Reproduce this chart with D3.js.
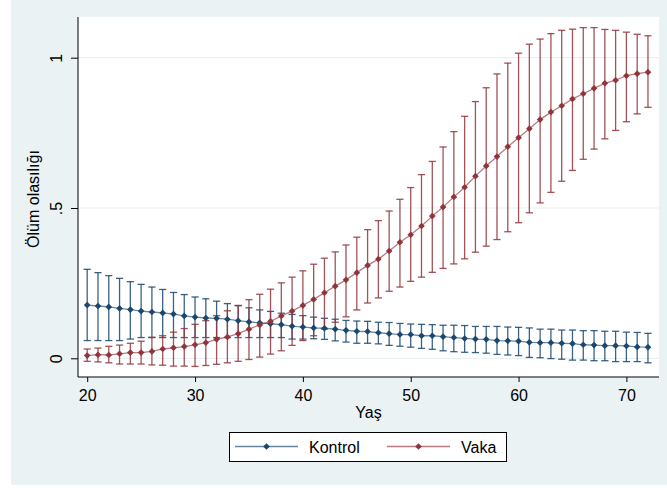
<!DOCTYPE html>
<html>
<head>
<meta charset="utf-8">
<script src="https://cdn.jsdelivr.net/npm/d3@7"></script>
<style>
  body { margin: 0; background: #ffffff; }
  svg { display: block; font-family: "Liberation Sans", Arial, sans-serif; }
</style>
</head>
<body>
<svg id="chart" width="667" height="488"></svg>
<script>
// ages on x axis
const ages = d3.range(20, 73);

// Kontrol (control group)
const kontrolMean = [0.177, 0.174, 0.171, 0.166, 0.162, 0.157, 0.154, 0.151, 0.147, 0.141,
    0.137, 0.134, 0.133, 0.130, 0.125, 0.121, 0.118, 0.115, 0.112, 0.107,
    0.104, 0.101, 0.100, 0.097, 0.093, 0.090, 0.089, 0.085, 0.082, 0.079,
    0.079, 0.075, 0.075, 0.072, 0.069, 0.066, 0.064, 0.063, 0.059, 0.058,
    0.057, 0.053, 0.052, 0.052, 0.050, 0.049, 0.045, 0.044, 0.042, 0.042,
    0.041, 0.038, 0.037];
const kontrolHi = [0.296, 0.285, 0.275, 0.266, 0.255, 0.246, 0.237, 0.229, 0.219, 0.212,
    0.204, 0.198, 0.190, 0.182, 0.175, 0.168, 0.161, 0.156, 0.150, 0.146,
    0.142, 0.137, 0.133, 0.130, 0.126, 0.124, 0.123, 0.120, 0.119, 0.116,
    0.114, 0.113, 0.112, 0.110, 0.110, 0.109, 0.106, 0.106, 0.106, 0.104,
    0.103, 0.101, 0.097, 0.097, 0.094, 0.094, 0.092, 0.092, 0.090, 0.090,
    0.087, 0.086, 0.083];
const kontrolLo = [0.059, 0.059, 0.059, 0.059, 0.064, 0.069, 0.069, 0.069, 0.069, 0.069,
    0.069, 0.069, 0.069, 0.069, 0.069, 0.069, 0.069, 0.069, 0.069, 0.064,
    0.064, 0.065, 0.063, 0.058, 0.054, 0.050, 0.050, 0.048, 0.043, 0.040,
    0.037, 0.033, 0.030, 0.025, 0.022, 0.020, 0.019, 0.017, 0.013, 0.011,
    0.009, 0.003, 0.002, -0.001, -0.003, -0.006, -0.006, -0.008, -0.008, -0.011,
    -0.011, -0.011, -0.015];

// Vaka (case group)
const vakaMean = [0.009, 0.012, 0.011, 0.015, 0.019, 0.019, 0.023, 0.031, 0.035, 0.039,
    0.045, 0.052, 0.063, 0.071, 0.082, 0.097, 0.111, 0.123, 0.141, 0.157,
    0.176, 0.196, 0.218, 0.240, 0.261, 0.285, 0.309, 0.330, 0.357, 0.386,
    0.411, 0.440, 0.473, 0.503, 0.537, 0.569, 0.606, 0.640, 0.671, 0.704,
    0.734, 0.764, 0.794, 0.819, 0.840, 0.863, 0.880, 0.898, 0.915, 0.925,
    0.940, 0.947, 0.952];
const vakaHi = [0.031, 0.034, 0.040, 0.044, 0.050, 0.057, 0.070, 0.075, 0.087, 0.099,
    0.113, 0.125, 0.142, 0.158, 0.176, 0.195, 0.213, 0.230, 0.251, 0.270,
    0.291, 0.313, 0.333, 0.354, 0.377, 0.403, 0.428, 0.458, 0.490, 0.529,
    0.568, 0.611, 0.655, 0.703, 0.754, 0.805, 0.854, 0.900, 0.946, 0.982,
    1.015, 1.045, 1.062, 1.080, 1.091, 1.095, 1.100, 1.100, 1.094, 1.091,
    1.085, 1.078, 1.073];
const vakaLo = [-0.010, -0.012, -0.015, -0.019, -0.019, -0.019, -0.022, -0.023, -0.026, -0.026,
    -0.027, -0.024, -0.020, -0.015, -0.010, -0.004, 0.004, 0.014, 0.025, 0.043,
    0.059, 0.075, 0.097, 0.120, 0.138, 0.161, 0.184, 0.201, 0.223, 0.237,
    0.256, 0.270, 0.286, 0.299, 0.314, 0.331, 0.353, 0.373, 0.395, 0.421,
    0.451, 0.484, 0.517, 0.552, 0.589, 0.625, 0.662, 0.696, 0.730, 0.758,
    0.787, 0.813, 0.835];

const xTicks = [20, 30, 40, 50, 60, 70];
const yTicks = [0, 0.5, 1];
const yTickLabels = ["0", ".5", "1"];
const seriesNames = ["Kontrol", "Vaka"];
const seriesColors = ["#1a476f", "#90353b"];

const svg = d3.select("#chart");

// graph region (Stata style light blue-gray)
svg.append("rect").attr("x", 11).attr("y", 0).attr("width", 656).attr("height", 485)
    .attr("fill", "#eaf2f3");

const plotLeft = 78, plotRight = 659, plotTop = 17, plotBottom = 377;

svg.append("rect").attr("x", plotLeft).attr("y", plotTop)
    .attr("width", plotRight - plotLeft).attr("height", plotBottom - plotTop)
    .attr("fill", "#ffffff");

const xScale = d3.scaleLinear().domain([20, 70]).range([87.2, 626.4]);
const yScale = d3.scaleLinear().domain([0, 1]).range([358.3, 57.7]);

// grid lines
svg.append("g")
    .selectAll("line")
    .data(yTicks)
    .enter()
    .append("line")
    .attr("x1", plotLeft).attr("x2", plotRight)
    .attr("y1", function (d) { return yScale(d); })
    .attr("y2", function (d) { return yScale(d); })
    .attr("stroke", "#eaf2f3")
    .attr("stroke-width", 1.2);

// y axis
const yAxis = svg.append("g")
    .attr("transform", "translate(" + plotLeft + ",0)")
    .call(d3.axisLeft(yScale).tickValues(yTicks).tickSize(7).tickSizeOuter(0)
        .tickFormat(function (d, i) { return yTickLabels[i]; }));
yAxis.select(".domain").remove();
yAxis.selectAll(".tick line").attr("stroke", "#000");
yAxis.selectAll(".tick text")
    .attr("transform", "rotate(-90)")
    .attr("x", 0).attr("y", -16).attr("dy", 0)
    .style("text-anchor", "middle")
    .style("font-size", "16px")
    .attr("fill", "#000");
svg.append("line").attr("x1", plotLeft).attr("x2", plotLeft)
    .attr("y1", plotTop).attr("y2", plotBottom).attr("stroke", "#000");

// x axis
const xAxis = svg.append("g")
    .attr("transform", "translate(0," + plotBottom + ")")
    .call(d3.axisBottom(xScale).tickValues(xTicks).tickSize(5).tickSizeOuter(0).tickPadding(8));
xAxis.select(".domain").remove();
xAxis.selectAll(".tick line").attr("stroke", "#000");
xAxis.selectAll(".tick text").style("font-size", "16px").attr("fill", "#000");
svg.append("line").attr("x1", plotLeft).attr("x2", plotRight)
    .attr("y1", plotBottom).attr("y2", plotBottom).attr("stroke", "#000");

// axis titles
svg.append("text")
    .attr("transform", "translate(39,199) rotate(-90)")
    .attr("text-anchor", "middle")
    .style("font-size", "16px")
    .text("Ölüm olasılığı");
svg.append("text")
    .attr("x", (plotLeft + plotRight) / 2).attr("y", 418)
    .attr("text-anchor", "middle")
    .style("font-size", "16px")
    .text("Yaş");

const series = [
    { name: seriesNames[0], color: seriesColors[0], mean: kontrolMean, lo: kontrolLo, hi: kontrolHi },
    { name: seriesNames[1], color: seriesColors[1], mean: vakaMean, lo: vakaLo, hi: vakaHi }
];

const capW = 3.6;

// capped spikes (confidence intervals)
series.forEach(function (s) {
    const g = svg.append("g").attr("stroke", s.color).attr("stroke-width", 1.3)
        .attr("stroke-opacity", 0.85).attr("fill", "none");
    const bars = g.selectAll("g").data(ages).enter().append("g");
    bars.append("line")
        .attr("x1", function (a) { return xScale(a); })
        .attr("x2", function (a) { return xScale(a); })
        .attr("y1", function (a, i) { return yScale(s.lo[i]); })
        .attr("y2", function (a, i) { return yScale(s.hi[i]); });
    bars.append("line")
        .attr("x1", function (a) { return xScale(a) - capW; })
        .attr("x2", function (a) { return xScale(a) + capW; })
        .attr("y1", function (a, i) { return yScale(s.hi[i]); })
        .attr("y2", function (a, i) { return yScale(s.hi[i]); });
    bars.append("line")
        .attr("x1", function (a) { return xScale(a) - capW; })
        .attr("x2", function (a) { return xScale(a) + capW; })
        .attr("y1", function (a, i) { return yScale(s.lo[i]); })
        .attr("y2", function (a, i) { return yScale(s.lo[i]); });
});

const diamond = d3.symbol().type(d3.symbolSquare).size(22);

// connected lines with diamond markers
series.forEach(function (s) {
    const lineGen = d3.line()
        .x(function (a) { return xScale(a); })
        .y(function (a, i) { return yScale(s.mean[i]); });
    svg.append("path")
        .attr("d", lineGen(ages))
        .attr("fill", "none")
        .attr("stroke", s.color)
        .attr("stroke-opacity", 0.65)
        .attr("stroke-width", 1.3);
    svg.append("g").selectAll("path")
        .data(ages)
        .enter()
        .append("path")
        .attr("d", diamond)
        .attr("transform", function (a, i) {
            return "translate(" + xScale(a) + "," + yScale(s.mean[i]) + ") rotate(45)";
        })
        .attr("fill", s.color);
});

// legend
const legend = svg.append("g");
legend.append("rect")
    .attr("x", 229.5).attr("y", 432.5).attr("width", 277).attr("height", 29)
    .attr("fill", "#ffffff").attr("stroke", "#000").attr("stroke-width", 1);
const legendX = [235, 387];
series.forEach(function (s, i) {
    const lx = legendX[i];
    legend.append("line")
        .attr("x1", lx).attr("x2", lx + 63).attr("y1", 446.5).attr("y2", 446.5)
        .attr("stroke", s.color).attr("stroke-opacity", 0.65).attr("stroke-width", 1.5);
    legend.append("path")
        .attr("d", diamond)
        .attr("transform", "translate(" + (lx + 31.5) + ",446.5) rotate(45)")
        .attr("fill", s.color);
    legend.append("text")
        .attr("x", lx + 74).attr("y", 452.5)
        .style("font-size", "16px")
        .text(s.name);
});
</script>
</body>
</html>
